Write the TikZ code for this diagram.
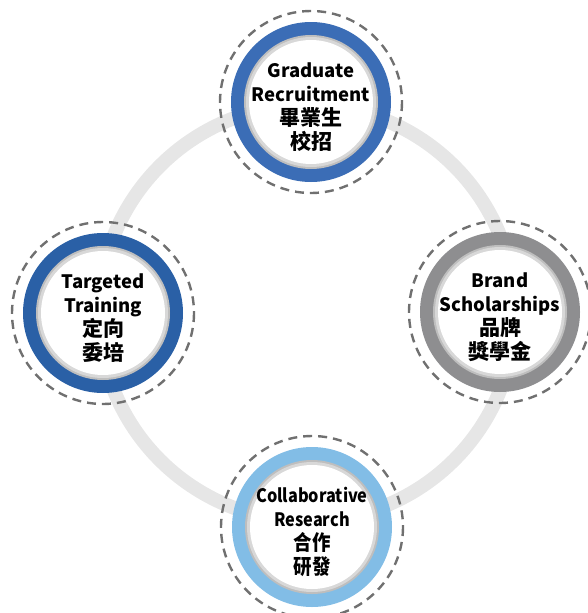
\documentclass[tikz,border=0pt]{standalone}
\usepackage{fontspec}
\usetikzlibrary{calc}
\setmainfont{Noto Sans CJK TC}
\definecolor{trackgray}{HTML}{E6E6E6}
\definecolor{dashgray}{HTML}{707070}
\definecolor{blueA}{HTML}{3B6DB6}
\definecolor{blueB}{HTML}{2A60A6}
\definecolor{grayR}{HTML}{8E8E90}
\definecolor{blueL}{HTML}{82BDE6}
\definecolor{rim}{HTML}{A8A8A8}
\newcommand\zh[1]{{\fontsize{21}{24}\selectfont #1}}
\tikzset{
  hubtext/.style={align=center,font=\bfseries\fontsize{18.5}{24}\selectfont,inner sep=0pt},
  dashring/.style={draw=dashgray,line width=2.4pt,dash pattern=on 9pt off 6pt},
  track/.style={draw=trackgray,line width=14pt}
}
\newcommand\hubring[2]{%
  \draw[dashring] (#1) circle[radius=91];
  \fill[#2] (#1) circle[radius=80];
  \fill[rim!75] (#1) circle[radius=67];
  \fill[rim!45] (#1) circle[radius=65];
  \fill[white] (#1) circle[radius=62];
}
\begin{document}
\begin{tikzpicture}[x=1pt,y=-1pt]
\useasboundingbox (0,0) rectangle (587,613);
\coordinate (c) at (307,313);
\draw[track] (c) circle[radius=208];
\coordinate (pt) at (311,102);
\coordinate (pl) at (103,313);
\coordinate (pr) at (500,312);
\coordinate (pb) at (312,527);
\hubring{pt}{blueA}
\hubring{pl}{blueB}
\hubring{pr}{grayR}
\hubring{pb}{blueL}
\node[hubtext] (top) at ($(pt)+(0,5)$) {Graduate\\Recruitment\\\zh{畢業生}\\\zh{校招}};
\node[hubtext] (left) at ($(pl)+(0,5)$) {Targeted\\Training\\\zh{定向}\\\zh{委培}};
\node[hubtext] (right) at ($(pr)+(0,5)$) {Brand\\Scholarships\\\zh{品牌}\\\zh{獎學金}};
\node[hubtext,font=\bfseries\fontsize{18.5}{24}\selectfont\addfontfeature{FakeStretch=0.88}] (bottom) at ($(pb)+(0,5)$) {Collaborative\\Research\\\zh{合作}\\\zh{研發}};
\end{tikzpicture}
\end{document}
